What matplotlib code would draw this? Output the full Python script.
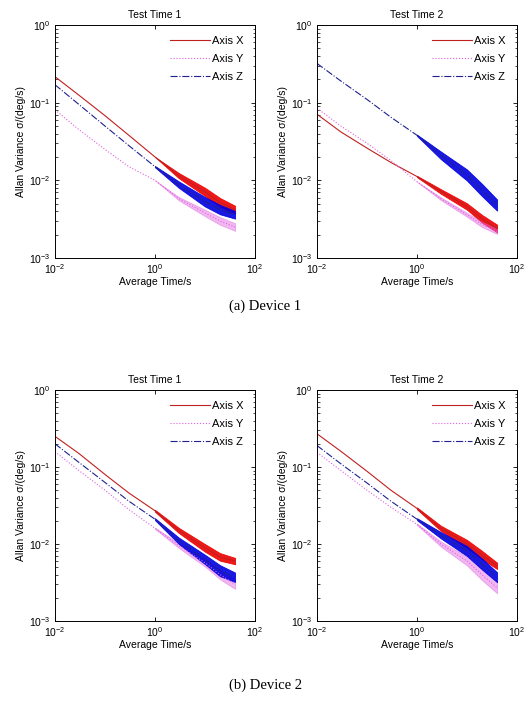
import matplotlib
matplotlib.use("Agg")
import matplotlib.pyplot as plt
import numpy as np

tau = [0.01, 0.03, 0.1, 0.3, 1, 3, 10, 20, 40]
# noisy tail of the curves
tau_tail = [1, 3, 10, 20, 40]

# Device 1, Test Time 1
d1t1_x = [0.216, 0.125, 0.068, 0.038, 0.020, 0.0115, 0.0071, 0.0052, 0.0042]
d1t1_y = [0.081, 0.045, 0.025, 0.015, 0.010, 0.0058, 0.0038, 0.0030, 0.0025]
d1t1_z = [0.170, 0.095, 0.050, 0.028, 0.015, 0.0088, 0.0053, 0.0042, 0.0036]
d1t1_x_spread = [1.0, 1.08, 1.13, 1.14, 1.12]
d1t1_y_spread = [1.0, 1.05, 1.1, 1.12, 1.12]
d1t1_z_spread = [1.02, 1.1, 1.15, 1.15, 1.12]

# Device 1, Test Time 2
d1t2_x = [0.071, 0.042, 0.026, 0.017, 0.0112, 0.0072, 0.0046, 0.0032, 0.0024]
d1t2_y = [0.085, 0.050, 0.030, 0.018, 0.0096, 0.0058, 0.0036, 0.0027, 0.0022]
d1t2_z = [0.32, 0.19, 0.11, 0.065, 0.038, 0.021, 0.0117, 0.0075, 0.0048]
d1t2_x_spread = [1.02, 1.07, 1.1, 1.12, 1.12]
d1t2_y_spread = [1.0, 1.04, 1.06, 1.08, 1.08]
d1t2_z_spread = [1.02, 1.12, 1.18, 1.2, 1.18]

# Device 2, Test Time 1
d2t1_x = [0.25, 0.15, 0.08, 0.046, 0.027, 0.015, 0.0089, 0.0068, 0.0060]
d2t1_y = [0.158, 0.09, 0.05, 0.028, 0.016, 0.0095, 0.0057, 0.0040, 0.0030]
d2t1_z = [0.20, 0.115, 0.063, 0.036, 0.021, 0.011, 0.0063, 0.0045, 0.0037]
d2t1_x_spread = [1.03, 1.08, 1.12, 1.12, 1.1]
d2t1_y_spread = [1.02, 1.07, 1.12, 1.15, 1.15]
d2t1_z_spread = [1.03, 1.1, 1.15, 1.18, 1.15]

# Device 2, Test Time 2
d2t2_x = [0.27, 0.16, 0.088, 0.05, 0.029, 0.016, 0.0100, 0.0072, 0.0052]
d2t2_y = [0.155, 0.09, 0.05, 0.03, 0.018, 0.010, 0.0060, 0.0040, 0.0027]
d2t2_z = [0.19, 0.11, 0.062, 0.036, 0.021, 0.013, 0.0081, 0.0055, 0.0037]
d2t2_x_spread = [1.03, 1.08, 1.13, 1.13, 1.1]
d2t2_y_spread = [1.02, 1.08, 1.14, 1.18, 1.18]
d2t2_z_spread = [1.03, 1.1, 1.16, 1.18, 1.16]

titles = ["Test Time 1", "Test Time 2", "Test Time 1", "Test Time 2"]
captions = ["(a) Device 1", "(b) Device 2"]
legends = ["Axis X", "Axis Y", "Axis Z"]

panels = [
    [(d1t1_x, d1t1_x_spread), (d1t1_y, d1t1_y_spread), (d1t1_z, d1t1_z_spread)],
    [(d1t2_x, d1t2_x_spread), (d1t2_y, d1t2_y_spread), (d1t2_z, d1t2_z_spread)],
    [(d2t1_x, d2t1_x_spread), (d2t1_y, d2t1_y_spread), (d2t1_z, d2t1_z_spread)],
    [(d2t2_x, d2t2_x_spread), (d2t2_y, d2t2_y_spread), (d2t2_z, d2t2_z_spread)],
]

colors = ['#ee0000', '#e060e0', '#0000e0']
line_colors = ['#c02020', '#e060e0', '#202090']
styles = ['-', ':', '-.']

plt.rcParams['font.family'] = ['Liberation Sans', 'DejaVu Sans']

fig = plt.figure(figsize=(5.31, 7.11), dpi=100)

W, H = 531.0, 711.0
boxes = [(55, 25, 200, 233), (317, 25, 200, 233),
         (55, 390, 200, 231), (317, 390, 200, 231)]

n_tail = len(tau_tail)
for k, (px, py, pw, ph) in enumerate(boxes):
    ax = fig.add_axes([px / W, 1 - (py + ph) / H, pw / W, ph / H])
    handles = []
    for i, (vals, spread) in enumerate(panels[k]):
        tail = np.array(vals[-n_tail:])
        sp = np.array(spread)
        ax.fill_between(tau_tail, tail / sp, tail * sp, color=colors[i],
                        linewidth=0.6, edgecolor=colors[i],
                        alpha=0.9 if i != 1 else 0.45)
        h, = ax.plot(tau, vals, color=line_colors[i], ls=styles[i], lw=0.8)
        handles.append(h)
    ax.set_xscale('log')
    ax.set_yscale('log')
    ax.set_xlim(1e-2, 1e2)
    ax.set_ylim(1e-3, 1e0)
    ax.set_xticks([1e-2, 1e0, 1e2])
    ax.set_yticks([1e-3, 1e-2, 1e-1, 1e0])
    ax.tick_params(which='both', direction='in', top=True, right=True,
                   labelsize=7.5, pad=3)
    ax.tick_params(which='major', length=3, width=0.6)
    ax.tick_params(which='minor', length=1.8, width=0.5)
    ax.xaxis.set_minor_locator(matplotlib.ticker.NullLocator())
    for s in ax.spines.values():
        s.set_linewidth(0.7)
    ax.set_title(titles[k], fontsize=7.5, pad=5)
    ax.set_xlabel("Average Time/s", fontsize=7.5, labelpad=1)
    ax.set_ylabel("Allan Variance \u03c3/(deg/s)", fontsize=7.5, labelpad=2)
    ax.legend(handles, legends, loc='upper right', frameon=False,
              fontsize=8, handlelength=3.6, handletextpad=0.2,
              labelspacing=0.72, borderaxespad=0.6)

fig.text(0.5, 1 - 306 / H, captions[0], ha='center', va='center',
         fontsize=10.5, family='Liberation Serif')
fig.text(0.5, 1 - 685 / H, captions[1], ha='center', va='center',
         fontsize=10.5, family='Liberation Serif')

fig.savefig("out.png", dpi=100)
